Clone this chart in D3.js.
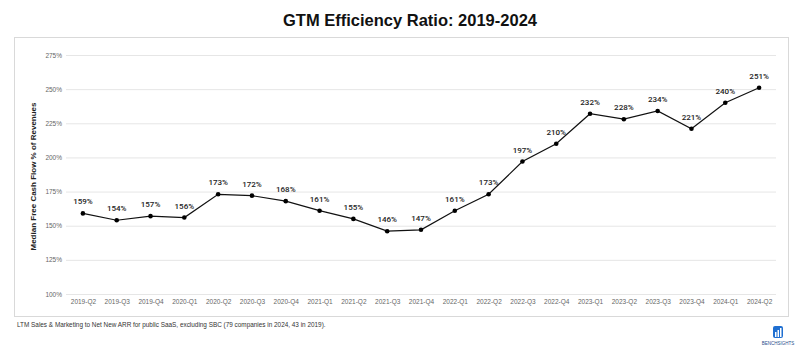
<!DOCTYPE html>
<html><head><meta charset="utf-8">
<script src="https://cdn.jsdelivr.net/npm/d3@7"></script>
<style>body{margin:0;background:#fff;}svg{display:block;font-family:"Liberation Sans",Arial,sans-serif;}</style>
</head><body><svg id="c" width="800" height="350"></svg>
<script>
const categories = ["2019-Q2","2019-Q3","2019-Q4","2020-Q1","2020-Q2","2020-Q3","2020-Q4","2021-Q1","2021-Q2","2021-Q3","2021-Q4","2022-Q1","2022-Q2","2022-Q3","2022-Q4","2023-Q1","2023-Q2","2023-Q3","2023-Q4","2024-Q1","2024-Q2"];
const values = [159,154,157,156,173,172,168,161,155,146,147,161,173,197,210,232,228,234,221,240,251];
const yTicks = [100,125,150,175,200,225,250,275];

const svg = d3.select("#c");
const mLeft = 66, mRight = 776, mTop = 55, mBottom = 294;

svg.append("text").attr("x",410).attr("y",26).attr("text-anchor","middle")
  .attr("font-size",16.5).attr("font-weight","bold").attr("fill","#111").text("GTM Efficiency Ratio: 2019-2024");

svg.append("rect").attr("x",14.5).attr("y",37.5).attr("width",774).attr("height",279)
  .attr("fill","none").attr("stroke","#d9d9d9").attr("stroke-width",1);

const x = d3.scalePoint().domain(categories).range([mLeft,mRight]).padding(0.5);
const y = d3.scaleLinear().domain([100,275]).range([mBottom,mTop]);

const gy = svg.append("g").attr("transform",`translate(${mLeft},0)`)
  .call(d3.axisLeft(y).tickValues(yTicks).tickFormat(d=>d+"%").tickSize(-(mRight-mLeft)).tickPadding(4));
gy.select(".domain").remove();
gy.selectAll(".tick line").attr("stroke","#e6e6e6");
gy.selectAll(".tick text").attr("font-size",6.5).attr("fill","#666").attr("font-family","Liberation Sans, Arial, sans-serif");

const gx = svg.append("g").attr("transform",`translate(0,${mBottom})`)
  .call(d3.axisBottom(x).tickSize(0).tickPadding(5));
gx.select(".domain").remove();
gx.selectAll(".tick text").attr("font-size",6.5).attr("fill","#666").attr("font-family","Liberation Sans, Arial, sans-serif");

svg.append("text").attr("transform",`translate(36,${(mTop+mBottom)/2+2}) rotate(-90)`)
  .attr("text-anchor","middle").attr("font-size",8).attr("font-weight","bold").attr("fill","#222")
  .text("Median Free Cash Flow % of Revenues");

const line = d3.line().x((d,i)=>x(categories[i])).y(d=>y(d));
svg.append("path").datum(values).attr("d",line).attr("fill","none").attr("stroke","#111").attr("stroke-width",1.2);

svg.selectAll("circle.pt").data(values).join("circle").attr("class","pt")
  .attr("cx",(d,i)=>x(categories[i])).attr("cy",d=>y(d)).attr("r",2.3).attr("fill","#000");

svg.selectAll("text.lbl").data(values).join("text").attr("class","lbl")
  .attr("x",(d,i)=>x(categories[i])).attr("y",d=>y(d)-9).attr("text-anchor","middle")
  .attr("font-family","Roboto, sans-serif")
  .attr("font-size",8).attr("font-weight",500).attr("fill","#222").text(d=>d+"%");

svg.append("text").attr("x",17).attr("y",327).attr("font-size",6.4).attr("fill","#333")
  .text("LTM Sales & Marketing to Net New ARR for public SaaS, excluding SBC (79 companies in 2024, 43 in 2019).");

// logo
const lg = svg.append("g").attr("transform","translate(773,326)");
lg.append("rect").attr("x",0).attr("y",0).attr("width",10).attr("height",12).attr("rx",2).attr("fill","#1f6fd1");
lg.append("rect").attr("x",2).attr("y",6).attr("width",1.5).attr("height",5).attr("fill","#fff");
lg.append("rect").attr("x",4.5).attr("y",4).attr("width",1.5).attr("height",7).attr("fill","#fff");
lg.append("rect").attr("x",7).attr("y",2).attr("width",1.5).attr("height",9).attr("fill","#fff");
svg.append("text").attr("x",778).attr("y",345).attr("text-anchor","middle").attr("font-size",4.5).attr("fill","#1f4e8c").text("BENCHSIGHTS");
</script></body></html>
